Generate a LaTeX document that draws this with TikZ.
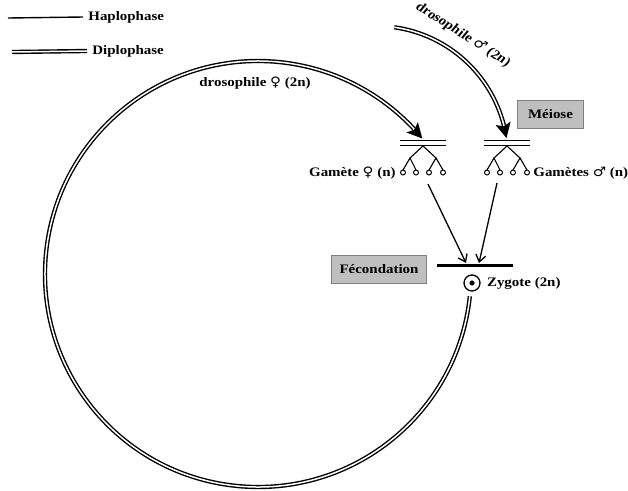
\documentclass[tikz,border=0pt]{standalone}
\usepackage{fontspec}
\setmainfont{Liberation Serif}
\newfontfamily\symb{DejaVu Sans}
\usetikzlibrary{arrows.meta,positioning,calc}
\newcommand{\femsym}{{\symb\mdseries ♀}}
\newcommand{\malsym}{{\symb\mdseries ♂}}
\tikzset{
  txt/.style={font=\fontsize{13}{15}\selectfont\bfseries, inner sep=1pt, xscale=1.15},
  haplo/.style={line width=1.4pt},
  diplo/.style={double, line width=1.4pt, double distance=1.5pt},
  etape/.style={txt, draw=black!50, fill=black!25, line width=0.8pt, minimum height=28pt},
  gam/.style={line width=1.3pt, -{Straight Barb[length=7pt,width=10pt]}},
}
\begin{document}
\begin{tikzpicture}[x=1pt, y=-1pt]
\useasboundingbox (0,0) rectangle (628,490);
% legende
\node[txt, anchor=west] (hap) at (87,17) {Haplophase};
\node[txt, anchor=west] (dip) at (91,51) {Diplophase};
\draw[haplo] (8,18)--([xshift=-4pt]hap.west);
\draw[diplo] (12,52)--([xshift=-4pt]dip.west);
% cycle de la femelle
\coordinate (cf) at (258,274);
\draw[diplo] (cf) ++(6:213) arc[start angle=6, end angle=317, radius=213];
\coordinate (af) at ($(cf)+(315:213)$);
\coordinate (pf) at ($(cf)+(320.5:213)$);
\fill[line join=miter] (pf)--($(pf)!17pt!27:(af)$)--($(pf)!12pt!(af)$)--($(pf)!17pt!-27:(af)$)--cycle;
\node[txt] (df) at (255,83) {drosophile \femsym{} (2n)};
% drosophile male
\coordinate (cm) at (376,158);
\draw[diplo] (cm) ++(278:132) arc[start angle=278, end angle=346, radius=132];
\coordinate (am) at ($(cm)+(343:132)$);
\coordinate (pm) at ($(cm)+(351.3:132)$);
\fill[line join=miter] (pm)--($(pm)!17pt!27:(am)$)--($(pm)!12pt!(am)$)--($(pm)!17pt!-27:(am)$)--cycle;
\node[txt, rotate=-36] (dm) at (463,35) {drosophile \malsym{} (2n)};
% meioses
\foreach \a in {423,507}{
  \draw[line width=1.3pt, double, double distance=4pt] (\a-23,143)--(\a+23,143);
  \draw[line width=1.1pt] (\a-13,158)--(\a,146)--(\a+13,158);
  \draw[line width=1.1pt] (\a-20,170)--(\a-13,158)--(\a-7,170);
  \draw[line width=1.1pt] (\a+6,170)--(\a+13,158)--(\a+20,170);
  \foreach \d in {-20,-7,6,20}
    \draw[line width=1pt] (\a+\d,172.5) circle[radius=2.5pt];
}
\node[etape, minimum width=58pt] (meiose) at (550.5,114) {Méiose};
\node[txt, anchor=east] (gf) at (397,173) {Gamète \femsym{} (n)};
\node[txt, anchor=west] (gm) at (532,173) {Gamètes \malsym{} (n)};
% fecondation
\coordinate (bg) at (437,265);
\coordinate (bd) at (513,265);
\draw[line width=3pt] (bg)--(bd);
\node[etape, minimum width=82pt] (fec) at (379,269) {Fécondation};
\node[circle, draw, line width=1.3pt, minimum size=16pt, inner sep=0pt] (zyg) at (472,283) {};
\fill (zyg.center) circle[radius=2.6pt];
\node[txt, right=5pt of zyg] (zt) {Zygote (2n)};
\coordinate (sf) at (428,184);
\coordinate (sm) at (497,183);
\coordinate (tf) at (466,263);
\coordinate (tm) at (479,263);
\draw[gam] (sf)--(tf);
\draw[gam] (sm)--(tm);
\end{tikzpicture}
\end{document}
